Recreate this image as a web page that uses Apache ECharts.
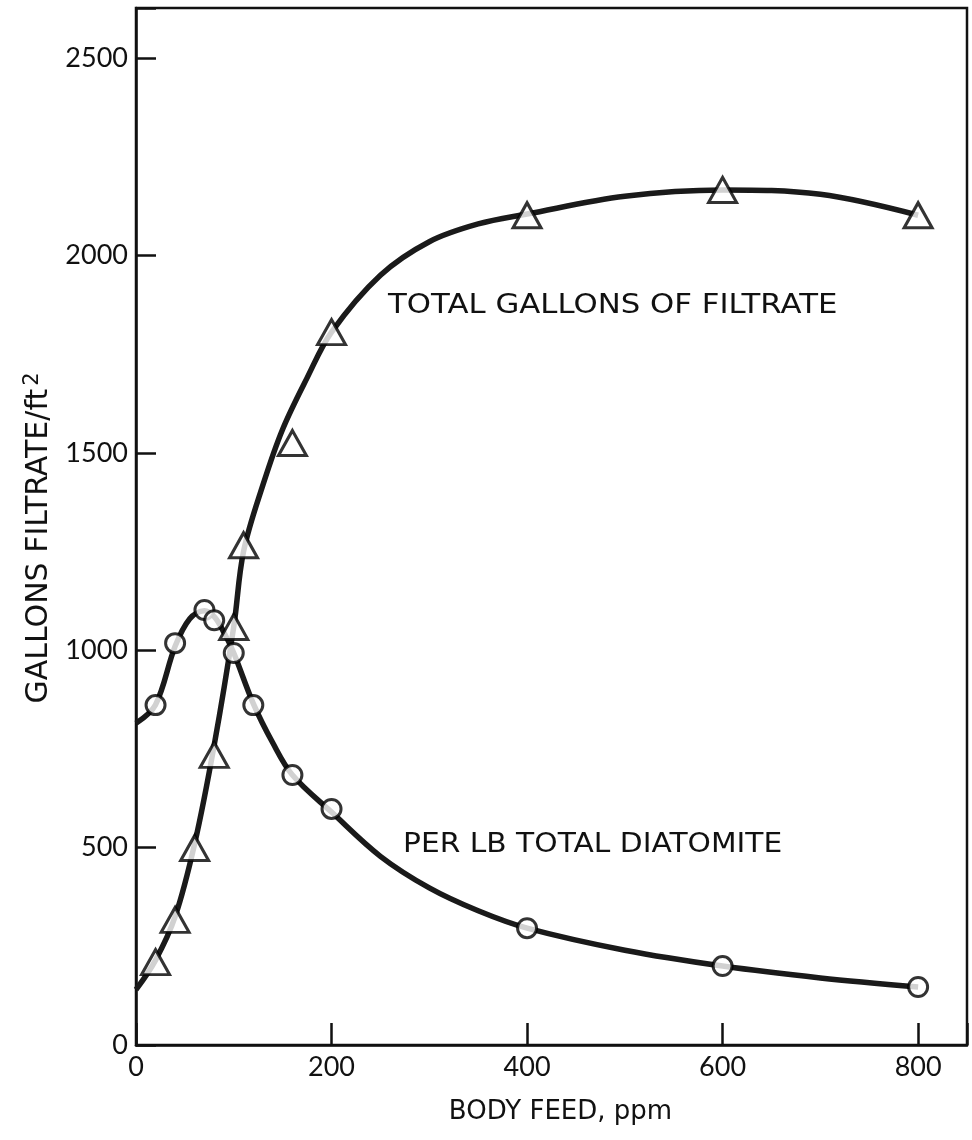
<!DOCTYPE html>
<html>
<head>
<meta charset="utf-8">
<title>Body feed vs filtrate</title>
<script src="https://cdn.jsdelivr.net/npm/echarts@6/dist/echarts.min.js"></script>
<style>
  html, body { margin: 0; padding: 0; background: #fff; }
  #chart { width: 972px; height: 1140px; }
</style>
</head>
<body>
<div id="chart"></div>
<script>
// Measured points: total gallons of filtrate per ft² (triangles)
const totalFeed = [20, 40, 60, 80, 100, 110, 160, 200, 400, 600, 800];
const totalGallons = [210, 317, 499, 735, 1059, 1266, 1525, 1806, 2102, 2166, 2102];

// Measured points: gallons per lb total diatomite (circles)
const perLbFeed = [20, 40, 70, 80, 100, 120, 160, 200, 400, 600, 800];
const perLbGallons = [861, 1018, 1102, 1076, 993, 861, 684, 598, 296, 200, 147];

// Faired curves drawn through each set of points
const totalCurveFeed = [0, 20, 40, 60, 80, 100, 110, 130, 150, 175, 200, 250, 300, 350, 400, 500, 600, 700, 800];
const totalCurveGallons = [140, 215, 325, 510, 760, 1060, 1250, 1420, 1560, 1690, 1806, 1950, 2035, 2080, 2105, 2150, 2166, 2155, 2102];

const perLbCurveFeed = [0, 20, 40, 55, 70, 80, 90, 100, 120, 140, 160, 200, 250, 300, 350, 400, 500, 600, 700, 800];
const perLbCurveGallons = [815, 862, 1010, 1080, 1100, 1085, 1045, 993, 865, 765, 684, 590, 478, 398, 340, 296, 240, 200, 170, 147];

// Axis ranges and tick spacing
const xMin = 0, xMax = 850, xStep = 200;
const yMin = 0, yMax = 2627, yStep = 500;

const pairs = (xs, ys) => xs.map((x, i) => [x, ys[i]]);
// only label the regular ticks, not the axis end
const stepLabel = step => v => (v % step === 0 ? String(v) : '');

const NUM_FONT = 'Lato, "Liberation Sans", sans-serif';
const TXT_FONT = '"DejaVu Sans", Lato, sans-serif';
const INK = '#111';

const chart = echarts.init(document.getElementById('chart'), null, { renderer: 'canvas' });

chart.setOption({
  backgroundColor: '#fff',
  animation: false,
  grid: {
    left: 136, right: 5, top: 8, bottom: 95,
    show: true, borderColor: INK, borderWidth: 2.5, backgroundColor: 'transparent'
  },
  xAxis: {
    type: 'value',
    min: xMin, max: xMax, interval: xStep,
    name: 'BODY FEED, ppm',
    nameLocation: 'middle',
    nameGap: 54,
    nameTextStyle: { fontFamily: TXT_FONT, fontSize: 26, color: INK, padding: [0, 0, 0, 18] },
    axisLine: { show: true, onZero: false, lineStyle: { color: INK, width: 2.5 } },
    // ticks point into the plot area
    axisTick: { show: true, inside: true, length: 22, lineStyle: { color: INK, width: 2.5 } },
    axisLabel: { formatter: stepLabel(xStep), margin: 9, fontFamily: NUM_FONT, fontSize: 27, color: INK },
    splitLine: { show: false }
  },
  yAxis: {
    type: 'value',
    min: yMin, max: yMax, interval: yStep,
    name: 'GALLONS FILTRATE/ft{sup|2}',
    nameLocation: 'middle',
    nameGap: 78,
    nameRotate: 90,
    nameTextStyle: {
      fontFamily: TXT_FONT, fontSize: 30, color: INK, padding: [0, 23, 0, 0],
      rich: { sup: { fontFamily: TXT_FONT, fontSize: 21, color: INK, verticalAlign: 'top', padding: [0, 0, 14, 3] } }
    },
    axisLine: { show: true, onZero: false, lineStyle: { color: INK, width: 2.5 } },
    axisTick: { show: true, inside: true, length: 20, lineStyle: { color: INK, width: 2.5 } },
    axisLabel: { formatter: stepLabel(yStep), margin: 8, fontFamily: NUM_FONT, fontSize: 27, color: INK },
    splitLine: { show: false }
  },
  series: [
    {
      name: 'total curve',
      type: 'line',
      data: pairs(totalCurveFeed, totalCurveGallons),
      smooth: 0.35,
      showSymbol: false,
      lineStyle: { color: '#1a1a1a', width: 5.5 },
      z: 2
    },
    {
      name: 'per lb curve',
      type: 'line',
      data: pairs(perLbCurveFeed, perLbCurveGallons),
      smooth: 0.35,
      showSymbol: false,
      lineStyle: { color: '#1a1a1a', width: 5.5 },
      z: 2
    },
    {
      name: 'TOTAL GALLONS OF FILTRATE',
      type: 'scatter',
      data: pairs(totalFeed, totalGallons),
      symbol: 'triangle',
      symbolSize: [28, 25],
      itemStyle: { color: '#fff', borderColor: '#000', borderWidth: 3 },
      z: 5
    },
    {
      name: 'PER LB TOTAL DIATOMITE',
      type: 'scatter',
      data: pairs(perLbFeed, perLbGallons),
      symbol: 'circle',
      symbolSize: 19,
      itemStyle: { color: '#fff', borderColor: '#000', borderWidth: 3 },
      z: 5
    }
  ],
  graphic: [
    {
      type: 'text', x: 388, y: 292, scaleX: 1.14,
      style: { text: 'TOTAL GALLONS OF FILTRATE', fontFamily: TXT_FONT, fontSize: 27, fill: INK }
    },
    {
      type: 'text', x: 403, y: 831, scaleX: 1.1,
      style: { text: 'PER LB TOTAL DIATOMITE', fontFamily: TXT_FONT, fontSize: 27, fill: INK }
    }
  ]
});
</script>
</body>
</html>
